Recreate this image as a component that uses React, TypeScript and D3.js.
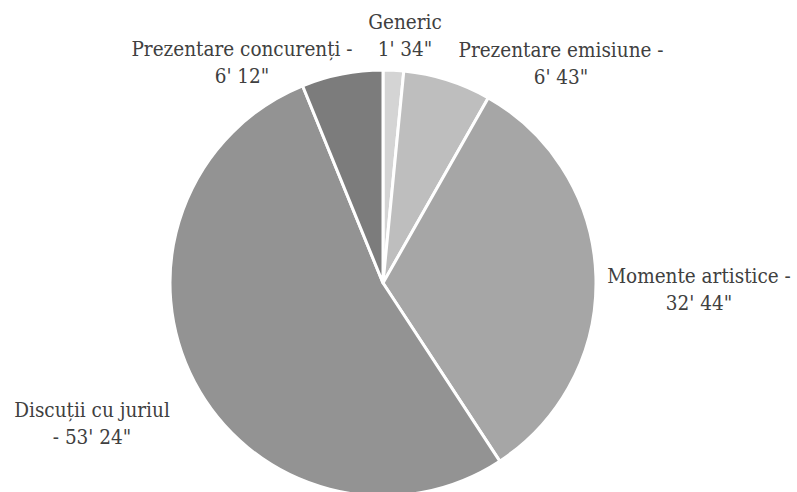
import React from "react";
import * as d3 from "d3";

const categories = [
  "Generic",
  "Prezentare emisiune",
  "Momente artistice",
  "Discuții cu juriul",
  "Prezentare concurenți",
];
// durations in seconds
const durations = [94, 403, 1964, 3204, 372];
const labelLines = [
  ["Generic", "1' 34\""],
  ["Prezentare emisiune -", "6' 43\""],
  ["Momente artistice -", "32' 44\""],
  ["Discuții cu juriul", "- 53' 24\""],
  ["Prezentare concurenți -", "6' 12\""],
];
const colors = ["#d4d4d4", "#bebebe", "#a6a6a6", "#939393", "#7c7c7c"];

// label anchor offsets (relative to pie center): [dx, baseline dy of first line]
const labelOffsets = [
  [22, -254],
  [178, -226],
  [316, 0],
  [-291, 134],
  [-141, -227],
];

const W = 797;
const H = 492;
const cx = 383;
const cy = 283;
const R = 213;

export default function App() {
  const pie = d3
    .pie<number>()
    .sort(null)
    .value((d) => d)(durations);
  const arc = d3.arc<d3.PieArcDatum<number>>().innerRadius(0).outerRadius(R);
  return (
    <svg
      width={W}
      height={H}
      style={{ position: "absolute", left: 0, top: 0, display: "block" }}
    >
      <rect width={W} height={H} fill="#ffffff" />
      <g transform={`translate(${cx},${cy})`}>
        {pie.map((p, i) => (
          <path
            key={categories[i]}
            d={arc(p) || ""}
            fill={colors[i]}
            stroke="#ffffff"
            strokeWidth={3}
            strokeLinejoin="round"
          />
        ))}
        {labelLines.map((lines, i) => (
          <text
            key={"l" + i}
            x={labelOffsets[i][0]}
            y={labelOffsets[i][1]}
            textAnchor="middle"
            style={{ fontFamily: '"DejaVu Serif Condensed", "DejaVu Serif", serif', fontStretch: "condensed" }}
            fontSize={20.5}
            fill="#404040"
          >
            {lines.map((t, j) => (
              <tspan key={j} x={labelOffsets[i][0]} dy={j === 0 ? 0 : 26.5}>
                {t}
              </tspan>
            ))}
          </text>
        ))}
      </g>
    </svg>
  );
}
